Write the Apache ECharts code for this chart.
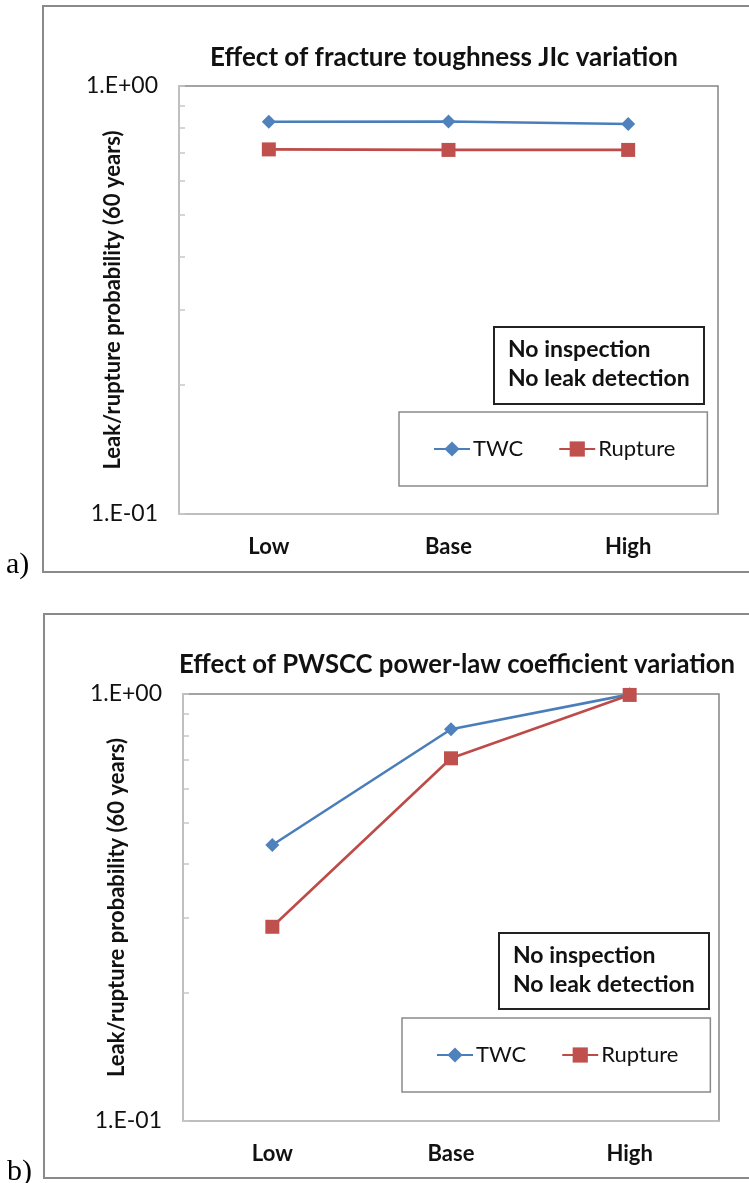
<!DOCTYPE html>
<html>
<head>
<meta charset="utf-8">
<script src="https://cdn.jsdelivr.net/npm/echarts@6/dist/echarts.min.js"></script>
<style>
html,body{margin:0;padding:0;background:#fff;}
#c{width:749px;height:1183px;}
</style>
</head>
<body>
<div id="c"></div>
<script>
// ---- data ----
const categories = ['Low', 'Base', 'High'];
const twcA = [0.825, 0.826, 0.815];
const ruptureA = [0.711, 0.709, 0.709];
const twcB = [0.443, 0.827, 0.998];
const ruptureB = [0.285, 0.707, 0.995];
const seriesNames = ['TWC', 'Rupture'];
const yMinorTicks = [0.1, 0.2, 0.3, 0.4, 0.5, 0.6, 0.7, 0.8, 0.9, 1];
const yTickLabels = {1: '1.E+00', 0.1: '1.E-01'};
const titleA = 'Effect of fracture toughness JIc variation';
const titleB = 'Effect of PWSCC power-law coefficient variation';
const yName = 'Leak/rupture probability (60 years)';
const noteLines = ['No inspection', 'No leak detection'];

const FONT = 'Lato, "Open Sans", sans-serif';
const blueLine = '#4A7EBB', blueMark = '#4F81BD';
const redLine = '#BE4B48', redMark = '#C0504D';

function xAxis(gi) {
  return {
    type: 'category', gridIndex: gi, data: categories, boundaryGap: true,
    axisLine: {lineStyle: {color: '#c8c8c8', width: 1.5}},
    axisTick: {inside: true, length: 6, lineStyle: {color: '#c8c8c8', width: 1.5}},
    axisLabel: {fontFamily: FONT, fontWeight: 'bold', fontSize: 22, color: '#111', margin: 22}
  };
}
function yAxis(gi) {
  return {
    type: 'log', logBase: 10, gridIndex: gi, min: 0.1, max: 1,
    name: yName, nameLocation: 'middle', nameRotate: 90, nameGap: 55, nameMoveOverlap: false,
    nameTextStyle: {fontFamily: FONT, fontWeight: 'bold', fontSize: 22, color: '#111'},
    axisLine: {show: true, lineStyle: {color: '#c8c8c8', width: 1.5}},
    axisTick: {show: true, inside: true, length: 6, customValues: yMinorTicks, lineStyle: {color: '#c8c8c8', width: 1.5}},
    axisLabel: {fontFamily: FONT, fontSize: 23, color: '#111', margin: 21,
      customValues: [0.1, 1],
      formatter: v => yTickLabels[Math.round(v * 10) / 10] || ''},
    splitLine: {show: false}
  };
}
function series(name, data, gi, color, mcolor, symbol, size) {
  return {
    name, type: 'line', xAxisIndex: gi, yAxisIndex: gi, data,
    symbol, symbolSize: size, showSymbol: true,
    lineStyle: {color, width: 2.6},
    itemStyle: {color: mcolor},
    emphasis: {disabled: true}, animation: false
  };
}
function legend(left, top) {
  return {
    show: true, left, top, orient: 'horizontal',
    data: seriesNames,
    borderColor: '#8a8a8a', borderWidth: 1.5, borderRadius: 0,
    padding: [26, 32, 26, 34], itemGap: 35, itemWidth: 36, itemHeight: 19,
    textStyle: {fontFamily: FONT, fontSize: 22, color: '#111', padding: [0, 0, 0, -2]},
    selectedMode: false
  };
}
function noteBox(x, y, w, h) {
  return {
    type: 'group', left: x, top: y,
    children: [
      {type: 'rect', shape: {x: 0, y: 0, width: w, height: h}, style: {fill: '#fff', stroke: '#222', lineWidth: 2}},
      {type: 'text', x: 14, y: 8, style: {text: noteLines.join('\n'), fontFamily: FONT, fontWeight: 'bold', fontSize: 23, lineHeight: 29, fill: '#111'}}
    ]
  };
}

const chart = echarts.init(document.getElementById('c'), null, {renderer: 'canvas'});
chart.setOption({
  animation: false,
  backgroundColor: '#fff',
  title: [
    {text: titleA, left: 439, top: 40, textAlign: 'center', textStyle: {fontFamily: FONT, fontWeight: 'bold', fontSize: 26, color: '#111'}},
    {text: titleB, left: 452, top: 647, textAlign: 'center', textStyle: {fontFamily: FONT, fontWeight: 'bold', fontSize: 25.7, color: '#111'}}
  ],
  grid: [
    {left: 179, top: 86, width: 539, height: 428, show: true, borderColor: '#858585', borderWidth: 1.5, backgroundColor: 'transparent'},
    {left: 183, top: 694, width: 536, height: 427, show: true, borderColor: '#858585', borderWidth: 1.5, backgroundColor: 'transparent'}
  ],
  xAxis: [xAxis(0), xAxis(1)],
  yAxis: [yAxis(0), yAxis(1)],
  legend: [legend(399, 412), legend(402, 1018)],
  series: [
    series('TWC', twcA, 0, blueLine, blueMark, 'diamond', 14),
    series('Rupture', ruptureA, 0, redLine, redMark, 'rect', 14),
    series('TWC', twcB, 1, blueLine, blueMark, 'diamond', 14),
    series('Rupture', ruptureB, 1, redLine, redMark, 'rect', 14)
  ],
  graphic: [
    {type: 'rect', shape: {x: 43, y: 6, width: 760, height: 566}, style: {fill: 'none', stroke: '#8a8a8a', lineWidth: 2}, z: -1},
    {type: 'rect', shape: {x: 44, y: 614, width: 760, height: 564}, style: {fill: 'none', stroke: '#8a8a8a', lineWidth: 2}, z: -1},
    {type: 'text', left: 6, top: 550, style: {text: 'a)', fontFamily: '"Liberation Serif", serif', fontSize: 30, fill: '#000'}},
    {type: 'text', left: 7, top: 1157, style: {text: 'b)', fontFamily: '"Liberation Serif", serif', fontSize: 30, fill: '#000'}},
    noteBox(493, 326, 210, 77),
    noteBox(498, 932, 210, 76)
  ]
});
</script>
</body>
</html>
